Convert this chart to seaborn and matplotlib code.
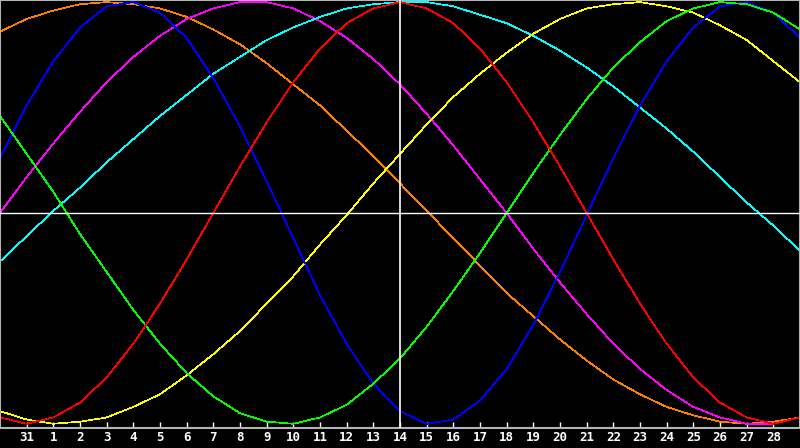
import pandas as pd
import seaborn as sns
from matplotlib import pyplot as plt

# biorhythm values, one per day from the day before "31" up to the day after "28"
days = list(range(-1, 30))
tick_days = list(range(0, 29))
tick_labels = ["31"] + [str(d) for d in range(1, 29)]

physical = [-0.97, -1.00, -0.97, -0.90, -0.78, -0.62, -0.43, -0.22, 0.00, 0.22, 0.43,
            0.62, 0.78, 0.90, 0.97, 1.00, 0.97, 0.90, 0.78, 0.62, 0.43, 0.22, 0.00,
            -0.22, -0.43, -0.62, -0.78, -0.90, -0.97, -1.00, -0.97]
intellectual = [0.46, 0.28, 0.10, -0.10, -0.28, -0.46, -0.62, -0.76, -0.87, -0.95, -0.99,
                -1.00, -0.97, -0.91, -0.81, -0.69, -0.54, -0.37, -0.19, 0.00, 0.19, 0.37,
                0.54, 0.69, 0.81, 0.91, 0.97, 1.00, 0.99, 0.95, 0.87]
emotional = [0.26, 0.51, 0.72, 0.88, 0.98, 1.00, 0.95, 0.83, 0.64, 0.41, 0.15,
             -0.12, -0.39, -0.62, -0.81, -0.94, -1.00, -0.98, -0.89, -0.74, -0.53, -0.28,
             -0.01, 0.26, 0.51, 0.72, 0.88, 0.98, 1.00, 0.95, 0.83]
aesthetic = [-0.94, -0.98, -1.00, -0.99, -0.97, -0.92, -0.86, -0.77, -0.67, -0.56, -0.43,
             -0.30, -0.15, -0.01, 0.14, 0.28, 0.42, 0.55, 0.66, 0.76, 0.85, 0.92,
             0.97, 0.99, 1.00, 0.98, 0.95, 0.89, 0.82, 0.72, 0.62]
spiritual = [-0.23, -0.11, 0.01, 0.12, 0.24, 0.35, 0.46, 0.56, 0.66, 0.74, 0.82,
             0.88, 0.93, 0.97, 0.99, 1.00, 1.00, 0.98, 0.94, 0.90, 0.84, 0.77,
             0.69, 0.60, 0.50, 0.40, 0.29, 0.17, 0.05, -0.06, -0.18]
intuitive = [0.00, 0.17, 0.33, 0.48, 0.62, 0.74, 0.84, 0.92, 0.97, 1.00, 1.00,
             0.97, 0.91, 0.83, 0.73, 0.61, 0.47, 0.32, 0.16, 0.00, -0.17, -0.33,
             -0.48, -0.62, -0.74, -0.84, -0.92, -0.97, -1.00, -1.00, -0.97]
awareness = [0.86, 0.92, 0.96, 0.99, 1.00, 0.99, 0.97, 0.93, 0.87, 0.80, 0.71,
             0.61, 0.51, 0.39, 0.27, 0.14, 0.01, -0.12, -0.25, -0.38, -0.49, -0.60,
             -0.70, -0.79, -0.86, -0.92, -0.96, -0.99, -1.00, -0.99, -0.97]

colors = {
    "awareness": "#ff8000",
    "intuitive": "#ff00ff",
    "spiritual": "#00ffff",
    "aesthetic": "#ffff00",
    "emotional": "#0000ff",
    "intellectual": "#00ff00",
    "physical": "#ff0000",
}


def main():
    data = pd.DataFrame({
        "day": days,
        "physical": physical,
        "intellectual": intellectual,
        "emotional": emotional,
        "aesthetic": aesthetic,
        "spiritual": spiritual,
        "intuitive": intuitive,
        "awareness": awareness,
    }).melt(id_vars="day", var_name="cycle", value_name="value")

    fig = plt.figure(figsize=(8, 4.48), dpi=100, facecolor="black")
    ax = fig.add_axes([0, 20 / 448, 1, 428 / 448])
    ax.set_facecolor("black")

    sns.lineplot(data=data, x="day", y="value", hue="cycle", hue_order=list(colors),
                 palette=colors, legend=False, estimator=None, sort=False,
                 linewidth=0.5, antialiased=False, ax=ax)

    ax.axhline(0, color="white", lw=1, zorder=5)
    ax.axvline(14, color="white", lw=1.2, zorder=5)

    ax.set_xlim(-1, 29)
    ax.set_ylim(-1.02, 1.01)
    ax.set_yticks([])
    ax.set_xticks(tick_days, tick_labels, fontweight="bold", family="DejaVu Sans Mono")
    ax.tick_params(axis="x", direction="in", length=4, width=1, color="white",
                   labelcolor="white", labelsize=9, pad=2.5)
    ax.set_xlabel("")
    ax.set_ylabel("")
    for side in ax.spines.values():
        side.set_color("#b4b4b4")
        side.set_linewidth(1.5)

    fig.savefig("out.png", dpi=100, facecolor="black")


if __name__ == "__main__":
    main()
